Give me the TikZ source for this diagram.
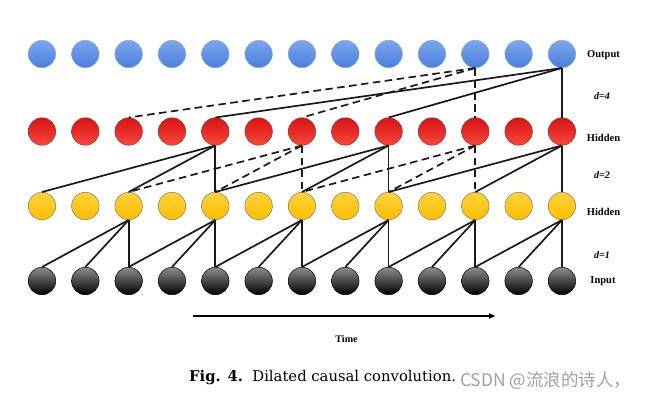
\documentclass[tikz,border=0pt]{standalone}
\usepackage{fontspec}
\setmainfont{Liberation Serif}
\newfontfamily\capfont{DejaVu Serif}
\newfontfamily\cjkfont{Noto Sans CJK SC}
\usetikzlibrary{arrows.meta}
\definecolor{bluemid}{RGB}{72,128,218}
\definecolor{bluetop}{RGB}{125,165,238}
\definecolor{redmid}{RGB}{236,18,18}
\definecolor{redbot}{RGB}{250,70,60}
\definecolor{redtop}{RGB}{215,20,20}
\definecolor{yelmid}{RGB}{255,190,0}
\definecolor{yeltop}{RGB}{255,210,60}
\definecolor{wmgray}{RGB}{160,160,160}
\tikzset{
  ball/.style={circle, inner sep=0pt, minimum size=27.5pt, line width=0.5pt},
  outball/.style={ball, draw={rgb,255:red,140;green,170;blue,215}, top color=bluetop, middle color=bluemid, bottom color=bluemid},
  redball/.style={ball, draw={rgb,255:red,130;green,60;blue,60}, top color=redtop, middle color=redmid, bottom color=redbot},
  yelball/.style={ball, draw={rgb,255:red,130;green,120;blue,90}, top color=yeltop, middle color=yelmid, bottom color=yelmid},
  inball/.style={ball, draw=black, top color=black!45, middle color=black, bottom color=black},
  conn/.style={line width=1.7pt, black!90},
  dconn/.style={conn, dash pattern=on 7.5pt off 4.5pt},
  lab/.style={font=\fontsize{10.5}{12}\selectfont\bfseries, inner sep=0pt},
  dlab/.style={font=\fontsize{10}{12}\selectfont\bfseries\itshape, inner sep=0pt},
}
\begin{document}
\begin{tikzpicture}[x=1pt,y=-1pt]
\useasboundingbox (0,0) rectangle (650,399);
\foreach \i in {0,...,12} {
  \pgfmathsetmacro{\xx}{42+43.33*\i}
  \node[outball] (o\i) at (\xx,54) {};
  \node[redball] (h\i) at (\xx,131.5) {};
  \node[yelball] (g\i) at (\xx,206) {};
  \node[inball] (i\i) at (\xx,281) {};
}
% input -> hidden 1 (d=1)
\foreach \j in {2,4,6,8,10,12} {
  \pgfmathtruncatemacro{\a}{\j-2}
  \pgfmathtruncatemacro{\b}{\j-1}
  \draw[conn] (g\j.south) -- (i\a.north);
  \draw[conn] (g\j.south) -- (i\b.north);
  \draw[conn] (g\j.south) -- (i\j.north);
}
% hidden 1 -> hidden 2 (d=2)
\foreach \j in {4,8,12} {
  \pgfmathtruncatemacro{\a}{\j-4}
  \pgfmathtruncatemacro{\b}{\j-2}
  \draw[conn] (h\j.south) -- (g\a.north);
  \draw[conn] (h\j.south) -- (g\b.north);
  \draw[conn] (h\j.south) -- (g\j.north);
}
\foreach \j in {6,10} {
  \pgfmathtruncatemacro{\a}{\j-4}
  \pgfmathtruncatemacro{\b}{\j-2}
  \draw[dconn] (h\j.south) -- (g\a.north);
  \draw[dconn] (h\j.south) -- (g\b.north);
  \draw[dconn] (h\j.south) -- (g\j.north);
}
% hidden 2 -> output (d=4)
\draw[conn] (o12.south) -- (h4.north);
\draw[conn] (o12.south) -- (h8.north);
\draw[conn] (o12.south) -- (h12.north);
\draw[dconn] (o10.south) -- (h2.north);
\draw[dconn] (o10.south) -- (h6.north);
\draw[dconn] (o10.south) -- (h10.north);
% labels
\node[lab] (lo) at (603.5,55) {Output};
\node[dlab] (l4) at (602,96) {d=4};
\node[lab] (lh1) at (603.5,138) {Hidden};
\node[dlab] (l2) at (602,175) {d=2};
\node[lab] (lh2) at (603.5,211.5) {Hidden};
\node[dlab] (l1) at (602,255) {d=1};
\node[lab] (li) at (603,281.5) {Input};
% time arrow
\coordinate (ts) at (193,316);
\coordinate (te) at (496,316);
\draw[line width=1.5pt, -{Latex[length=7pt,width=6pt]}] (ts) -- (te);
\node[lab, font=\fontsize{10}{12}\selectfont\bfseries] (time) at (346.5,339) {Time};
% caption
\node[anchor=base west, inner sep=0pt, font=\capfont\fontsize{14.8}{18}\selectfont] (cap) at (189,381) {\textbf{Fig. 4.}\hspace{0.2em} Dilated causal convolution.};
\node[anchor=base west, inner sep=0pt, text=wmgray, font=\cjkfont\fontsize{17.5}{20}\selectfont] (wm) at (460,386) {CSDN @流浪的诗人，};
\end{tikzpicture}
\end{document}
